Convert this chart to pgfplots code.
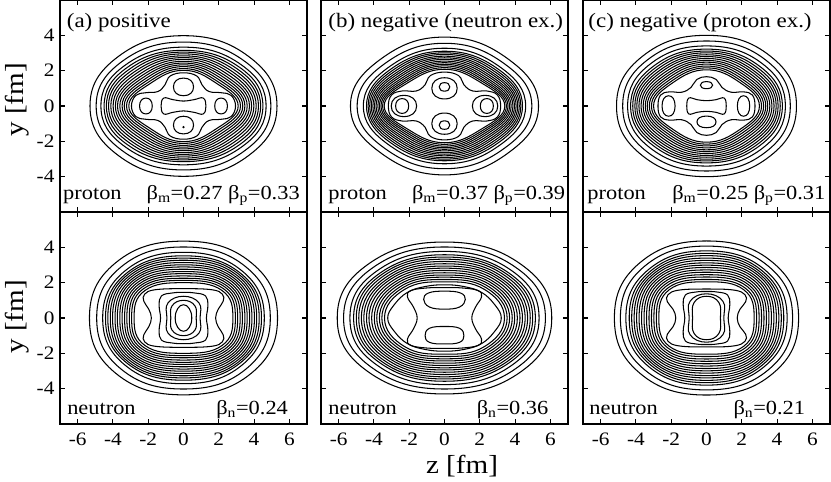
\documentclass[border=0pt]{standalone}
\usepackage{fontspec}
\setmainfont{Liberation Serif}[FakeStretch=1.12]
\usepackage{pgfplots}
\pgfplotsset{compat=1.18}

\newcommand{\ttl}{\fontsize{20.5}{24}\selectfont}
\newcommand{\ann}{\fontsize{20}{24}\selectfont}
\newcommand{\axl}{\fontsize{26}{30}\selectfont}

\pgfplotsset{
  panel/.style={
    scale only axis, width=247pt, height=212pt,
    xmin=-7, xmax=7, ymin=-6, ymax=6,
    xtick={-6,-4,-2,0,2,4,6}, ytick={-4,-2,0,2,4},
    xticklabels={}, yticklabels={},
    tick align=inside, tick pos=both, major tick length=5pt,
    axis line style={line width=1.5pt},
    every tick/.style={black, line width=1.1pt},
    tick label style={font=\fontsize{19}{22}\selectfont},
    xticklabel style={inner sep=1pt, yshift=-8pt},
    yticklabel style={xshift=-2pt},
  },
  xlab/.style={xticklabels={-6,-4,-2,0,2,4,6}},
  ylab/.style={yticklabels={-4,-2,0,2,4}},
  ring/.style={black, line width=1.05pt, smooth cycle, tension=0.75},
  blob/.style={black, line width=1.05pt, smooth cycle, tension=0.7},
  oval/.style={black, line width=1.05pt, smooth cycle, tension=1.1},
}

\begin{document}
\begin{tikzpicture}
\useasboundingbox (0,0) rectangle (831pt,482pt);

% ---------- (a) proton ----------
\begin{axis}[panel, ylab, at={(60pt,270pt)}, anchor=south west]
\addplot[ring] coordinates {(5.30,0)(3.71,2.79)(0,3.98)(-3.71,2.79)(-5.30,0)(-3.71,-2.79)(0,-3.98)(3.71,-2.79)};
\addplot[ring] coordinates {(4.95,0)(3.47,2.53)(0,3.62)(-3.47,2.53)(-4.95,0)(-3.47,-2.53)(0,-3.62)(3.47,-2.53)};
\addplot[ring] coordinates {(4.68,0)(3.28,2.33)(0,3.33)(-3.28,2.33)(-4.68,0)(-3.28,-2.33)(0,-3.33)(3.28,-2.33)};
\addplot[ring] coordinates {(4.50,0)(3.15,2.21)(0,3.15)(-3.15,2.21)(-4.50,0)(-3.15,-2.21)(0,-3.15)(3.15,-2.21)};
\addplot[ring] coordinates {(4.37,0)(3.03,2.11)(0,3.05)(-3.03,2.11)(-4.37,0)(-3.03,-2.11)(0,-3.05)(3.03,-2.11)};
\addplot[ring] coordinates {(4.25,0)(2.91,2.02)(0,2.95)(-2.91,2.02)(-4.25,0)(-2.91,-2.02)(0,-2.95)(2.91,-2.02)};
\addplot[ring] coordinates {(4.12,0)(2.79,1.93)(0,2.84)(-2.79,1.93)(-4.12,0)(-2.79,-1.93)(0,-2.84)(2.79,-1.93)};
\addplot[ring] coordinates {(3.99,0)(2.68,1.84)(0,2.74)(-2.68,1.84)(-3.99,0)(-2.68,-1.84)(0,-2.74)(2.68,-1.84)};
\addplot[ring] coordinates {(3.86,0)(2.56,1.75)(0,2.64)(-2.56,1.75)(-3.86,0)(-2.56,-1.75)(0,-2.64)(2.56,-1.75)};
\addplot[ring] coordinates {(3.74,0)(2.45,1.66)(0,2.53)(-2.45,1.66)(-3.74,0)(-2.45,-1.66)(0,-2.53)(2.45,-1.66)};
\addplot[ring] coordinates {(3.61,0)(2.34,1.58)(0,2.43)(-2.34,1.58)(-3.61,0)(-2.34,-1.58)(0,-2.43)(2.34,-1.58)};
\addplot[ring] coordinates {(3.48,0)(2.24,1.49)(0,2.33)(-2.24,1.49)(-3.48,0)(-2.24,-1.49)(0,-2.33)(2.24,-1.49)};
\addplot[ring] coordinates {(3.36,0)(2.13,1.41)(0,2.23)(-2.13,1.41)(-3.36,0)(-2.13,-1.41)(0,-2.23)(2.13,-1.41)};
\addplot[ring] coordinates {(3.23,0)(2.02,1.33)(0,2.12)(-2.02,1.33)(-3.23,0)(-2.02,-1.33)(0,-2.12)(2.02,-1.33)};
\addplot[ring] coordinates {(3.10,0)(1.92,1.25)(0,2.02)(-1.92,1.25)(-3.10,0)(-1.92,-1.25)(0,-2.02)(1.92,-1.25)};
\addplot[blob] coordinates {(2.95,0)(2.7,0.6)(2.15,0.75)(1.45,0.82)(1.05,1.2)(0.75,1.7)(0,1.88)(-0.75,1.7)(-1.05,1.2)(-1.45,0.82)(-2.15,0.75)(-2.7,0.6)(-2.95,0)(-2.7,-0.6)(-2.15,-0.75)(-1.45,-0.82)(-1.05,-1.2)(-0.75,-1.7)(0,-1.88)(0.75,-1.7)(1.05,-1.2)(1.45,-0.82)(2.15,-0.75)(2.7,-0.6)};
\addplot[oval] coordinates {(0.57,1.08)(0,1.58)(-0.57,1.08)(0,0.58)};
\addplot[oval] coordinates {(0.57,-1.08)(0,-0.58)(-0.57,-1.08)(0,-1.58)};
\addplot[oval] coordinates {(0.03,-1.2)(0,-1.17)(-0.03,-1.2)(0,-1.23)};
\addplot[oval] coordinates {(2.49,0)(2.13,0.45)(1.77,0)(2.13,-0.45)};
\addplot[oval] coordinates {(-1.77,0)(-2.13,0.45)(-2.49,0)(-2.13,-0.45)};
\addplot[blob] coordinates {(1.27,0)(1.12,0.45)(0.6,0.36)(0,0.28)(-0.6,0.36)(-1.12,0.45)(-1.27,0)(-1.12,-0.45)(-0.6,-0.36)(0,-0.28)(0.6,-0.36)(1.12,-0.45)};
\node[anchor=base west, inner sep=0, font=\ttl] at (axis cs:-6.62,4.46) {(a) positive};
\node[anchor=base west, inner sep=0, font=\ann] at (axis cs:-6.83,-5.31) {proton};
\node[anchor=base east, inner sep=0, font=\ann] at (axis cs:6.6,-5.31) {β\textsubscript{m}=0.27 β\textsubscript{p}=0.33};
\end{axis}

% ---------- (b) proton ----------
\begin{axis}[panel, at={(321pt,270pt)}, anchor=south west]
\addplot[ring] coordinates {(5.33,0)(3.62,2.65)(0,3.90)(-3.62,2.65)(-5.33,0)(-3.62,-2.65)(0,-3.90)(3.62,-2.65)};
\addplot[ring] coordinates {(4.95,0)(3.37,2.41)(0,3.55)(-3.37,2.41)(-4.95,0)(-3.37,-2.41)(0,-3.55)(3.37,-2.41)};
\addplot[ring] coordinates {(4.60,0)(3.13,2.22)(0,3.27)(-3.13,2.22)(-4.60,0)(-3.13,-2.22)(0,-3.27)(3.13,-2.22)};
\addplot[ring] coordinates {(4.42,0)(3.01,2.11)(0,3.10)(-3.01,2.11)(-4.42,0)(-3.01,-2.11)(0,-3.10)(3.01,-2.11)};
\addplot[ring] coordinates {(4.33,0)(2.92,2.03)(0,3.01)(-2.92,2.03)(-4.33,0)(-2.92,-2.03)(0,-3.01)(2.92,-2.03)};
\addplot[ring] coordinates {(4.24,0)(2.84,1.95)(0,2.92)(-2.84,1.95)(-4.24,0)(-2.84,-1.95)(0,-2.92)(2.84,-1.95)};
\addplot[ring] coordinates {(4.15,0)(2.75,1.87)(0,2.82)(-2.75,1.87)(-4.15,0)(-2.75,-1.87)(0,-2.82)(2.75,-1.87)};
\addplot[ring] coordinates {(4.06,0)(2.67,1.80)(0,2.73)(-2.67,1.80)(-4.06,0)(-2.67,-1.80)(0,-2.73)(2.67,-1.80)};
\addplot[ring] coordinates {(3.97,0)(2.59,1.72)(0,2.64)(-2.59,1.72)(-3.97,0)(-2.59,-1.72)(0,-2.64)(2.59,-1.72)};
\addplot[ring] coordinates {(3.88,0)(2.51,1.65)(0,2.54)(-2.51,1.65)(-3.88,0)(-2.51,-1.65)(0,-2.54)(2.51,-1.65)};
\addplot[ring] coordinates {(3.78,0)(2.43,1.57)(0,2.45)(-2.43,1.57)(-3.78,0)(-2.43,-1.57)(0,-2.45)(2.43,-1.57)};
\addplot[ring] coordinates {(3.69,0)(2.35,1.50)(0,2.36)(-2.35,1.50)(-3.69,0)(-2.35,-1.50)(0,-2.36)(2.35,-1.50)};
\addplot[ring] coordinates {(3.60,0)(2.27,1.43)(0,2.27)(-2.27,1.43)(-3.60,0)(-2.27,-1.43)(0,-2.27)(2.27,-1.43)};
\addplot[ring] coordinates {(3.51,0)(2.20,1.36)(0,2.17)(-2.20,1.36)(-3.51,0)(-2.20,-1.36)(0,-2.17)(2.20,-1.36)};
\addplot[ring] coordinates {(3.42,0)(2.12,1.29)(0,2.08)(-2.12,1.29)(-3.42,0)(-2.12,-1.29)(0,-2.08)(2.12,-1.29)};
\addplot[blob] coordinates {(3.18,0)(3.0,0.62)(2.4,0.85)(1.6,0.85)(1.1,1.2)(0.8,1.72)(0,1.92)(-0.8,1.72)(-1.1,1.2)(-1.6,0.85)(-2.4,0.85)(-3.0,0.62)(-3.18,0)(-3.0,-0.62)(-2.4,-0.85)(-1.6,-0.85)(-1.1,-1.2)(-0.8,-1.72)(0,-1.92)(0.8,-1.72)(1.1,-1.2)(1.6,-0.85)(2.4,-0.85)(3.0,-0.62)};
\addplot[oval] coordinates {(0.72,1.0)(0,1.6)(-0.72,1.0)(0,0.4)};
\addplot[oval] coordinates {(0.72,-1.0)(0,-0.4)(-0.72,-1.0)(0,-1.6)};
\addplot[oval] coordinates {(0.3,1.08)(0,1.32)(-0.3,1.08)(0,0.84)};
\addplot[oval] coordinates {(0.3,-1.08)(0,-0.84)(-0.3,-1.08)(0,-1.32)};
\addplot[oval] coordinates {(3.02,0)(2.3,0.6)(1.58,0)(2.3,-0.6)};
\addplot[oval] coordinates {(-1.58,0)(-2.3,0.6)(-3.02,0)(-2.3,-0.6)};
\addplot[oval] coordinates {(2.77,0)(2.4,0.42)(2.03,0)(2.4,-0.42)};
\addplot[oval] coordinates {(-2.03,0)(-2.4,0.42)(-2.77,0)(-2.4,-0.42)};
\node[anchor=base west, inner sep=0, font=\ttl] at (axis cs:-6.59,4.46) {(b) negative (neutron ex.)};
\node[anchor=base west, inner sep=0, font=\ann] at (axis cs:-6.59,-5.31) {proton};
\node[anchor=base east, inner sep=0, font=\ann] at (axis cs:6.85,-5.31) {β\textsubscript{m}=0.37 β\textsubscript{p}=0.39};
\end{axis}

% ---------- (c) proton ----------
\begin{axis}[panel, at={(583pt,270pt)}, anchor=south west]
\addplot[ring] coordinates {(5.10,0)(3.61,2.83)(0,4.00)(-3.61,2.83)(-5.10,0)(-3.61,-2.83)(0,-4.00)(3.61,-2.83)};
\addplot[ring] coordinates {(4.75,0)(3.36,2.60)(0,3.68)(-3.36,2.60)(-4.75,0)(-3.36,-2.60)(0,-3.68)(3.36,-2.60)};
\addplot[ring] coordinates {(4.47,0)(3.16,2.40)(0,3.40)(-3.16,2.40)(-4.47,0)(-3.16,-2.40)(0,-3.40)(3.16,-2.40)};
\addplot[ring] coordinates {(4.30,0)(3.01,2.25)(0,3.22)(-3.01,2.25)(-4.30,0)(-3.01,-2.25)(0,-3.22)(3.01,-2.25)};
\addplot[ring] coordinates {(4.18,0)(2.90,2.16)(0,3.11)(-2.90,2.16)(-4.18,0)(-2.90,-2.16)(0,-3.11)(2.90,-2.16)};
\addplot[ring] coordinates {(4.06,0)(2.80,2.07)(0,3.01)(-2.80,2.07)(-4.06,0)(-2.80,-2.07)(0,-3.01)(2.80,-2.07)};
\addplot[ring] coordinates {(3.95,0)(2.70,1.98)(0,2.90)(-2.70,1.98)(-3.95,0)(-2.70,-1.98)(0,-2.90)(2.70,-1.98)};
\addplot[ring] coordinates {(3.83,0)(2.60,1.90)(0,2.80)(-2.60,1.90)(-3.83,0)(-2.60,-1.90)(0,-2.80)(2.60,-1.90)};
\addplot[ring] coordinates {(3.71,0)(2.50,1.81)(0,2.69)(-2.50,1.81)(-3.71,0)(-2.50,-1.81)(0,-2.69)(2.50,-1.81)};
\addplot[ring] coordinates {(3.59,0)(2.40,1.72)(0,2.58)(-2.40,1.72)(-3.59,0)(-2.40,-1.72)(0,-2.58)(2.40,-1.72)};
\addplot[ring] coordinates {(3.47,0)(2.30,1.64)(0,2.48)(-2.30,1.64)(-3.47,0)(-2.30,-1.64)(0,-2.48)(2.30,-1.64)};
\addplot[ring] coordinates {(3.36,0)(2.20,1.56)(0,2.37)(-2.20,1.56)(-3.36,0)(-2.20,-1.56)(0,-2.37)(2.20,-1.56)};
\addplot[ring] coordinates {(3.24,0)(2.11,1.47)(0,2.26)(-2.11,1.47)(-3.24,0)(-2.11,-1.47)(0,-2.26)(2.11,-1.47)};
\addplot[ring] coordinates {(3.12,0)(2.01,1.39)(0,2.16)(-2.01,1.39)(-3.12,0)(-2.01,-1.39)(0,-2.16)(2.01,-1.39)};
\addplot[ring] coordinates {(3.00,0)(1.92,1.31)(0,2.05)(-1.92,1.31)(-3.00,0)(-1.92,-1.31)(0,-2.05)(1.92,-1.31)};
\addplot[blob] coordinates {(2.75,0)(2.6,0.62)(2.1,0.8)(1.4,0.78)(0.88,1.05)(0.55,1.5)(0,1.66)(-0.55,1.5)(-0.88,1.05)(-1.4,0.78)(-2.1,0.8)(-2.6,0.62)(-2.75,0)(-2.6,-0.62)(-2.1,-0.8)(-1.4,-0.78)(-0.88,-1.05)(-0.55,-1.5)(0,-1.66)(0.55,-1.5)(0.88,-1.05)(1.4,-0.78)(2.1,-0.8)(2.6,-0.62)};
\addplot[oval] coordinates {(0.35,1.18)(0,1.38)(-0.35,1.18)(0,0.98)};
\addplot[oval] coordinates {(0.54,-0.9)(0,-0.57)(-0.54,-0.9)(0,-1.23)};
\addplot[oval] coordinates {(2.45,0)(2.1,0.58)(1.75,0)(2.1,-0.58)};
\addplot[oval] coordinates {(-1.78,0)(-2.15,0.58)(-2.52,0)(-2.15,-0.58)};
\addplot[blob] coordinates {(1.12,0)(1.0,0.45)(0.55,0.36)(0,0.3)(-0.55,0.36)(-1.0,0.45)(-1.12,0)(-1.0,-0.45)(-0.55,-0.36)(0,-0.3)(0.55,-0.36)(1.0,-0.45)};
\node[anchor=base west, inner sep=0, font=\ttl] at (axis cs:-6.7,4.46) {(c) negative (proton ex.)};
\node[anchor=base west, inner sep=0, font=\ann] at (axis cs:-6.76,-5.31) {proton};
\node[anchor=base east, inner sep=0, font=\ann] at (axis cs:6.75,-5.31) {β\textsubscript{m}=0.25 β\textsubscript{p}=0.31};
\end{axis}

% ---------- (a) neutron ----------
\begin{axis}[panel, xlab, ylab, at={(60pt,58pt)}, anchor=south west]
\addplot[ring] coordinates {(5.33,0)(3.84,3.13)(0,4.35)(-3.84,3.13)(-5.33,0)(-3.84,-3.13)(0,-4.35)(3.84,-3.13)};
\addplot[ring] coordinates {(4.92,0)(3.54,2.89)(0,4.02)(-3.54,2.89)(-4.92,0)(-3.54,-2.89)(0,-4.02)(3.54,-2.89)};
\addplot[ring] coordinates {(4.58,0)(3.30,2.68)(0,3.72)(-3.30,2.68)(-4.58,0)(-3.30,-2.68)(0,-3.72)(3.30,-2.68)};
\addplot[ring] coordinates {(4.42,0)(3.21,2.55)(0,3.52)(-3.21,2.55)(-4.42,0)(-3.21,-2.55)(0,-3.52)(3.21,-2.55)};
\addplot[ring] coordinates {(4.29,0)(3.13,2.48)(0,3.39)(-3.13,2.48)(-4.29,0)(-3.13,-2.48)(0,-3.39)(3.13,-2.48)};
\addplot[ring] coordinates {(4.15,0)(3.05,2.40)(0,3.27)(-3.05,2.40)(-4.15,0)(-3.05,-2.40)(0,-3.27)(3.05,-2.40)};
\addplot[ring] coordinates {(4.02,0)(2.97,2.32)(0,3.14)(-2.97,2.32)(-4.02,0)(-2.97,-2.32)(0,-3.14)(2.97,-2.32)};
\addplot[ring] coordinates {(3.88,0)(2.88,2.24)(0,3.01)(-2.88,2.24)(-3.88,0)(-2.88,-2.24)(0,-3.01)(2.88,-2.24)};
\addplot[ring] coordinates {(3.75,0)(2.80,2.16)(0,2.89)(-2.80,2.16)(-3.75,0)(-2.80,-2.16)(0,-2.89)(2.80,-2.16)};
\addplot[ring] coordinates {(3.61,0)(2.72,2.08)(0,2.76)(-2.72,2.08)(-3.61,0)(-2.72,-2.08)(0,-2.76)(2.72,-2.08)};
\addplot[ring] coordinates {(3.48,0)(2.63,1.99)(0,2.63)(-2.63,1.99)(-3.48,0)(-2.63,-1.99)(0,-2.63)(2.63,-1.99)};
\addplot[ring] coordinates {(3.34,0)(2.54,1.91)(0,2.51)(-2.54,1.91)(-3.34,0)(-2.54,-1.91)(0,-2.51)(2.54,-1.91)};
\addplot[ring] coordinates {(3.21,0)(2.46,1.82)(0,2.38)(-2.46,1.82)(-3.21,0)(-2.46,-1.82)(0,-2.38)(2.46,-1.82)};
\addplot[ring] coordinates {(3.07,0)(2.37,1.74)(0,2.25)(-2.37,1.74)(-3.07,0)(-2.37,-1.74)(0,-2.25)(2.37,-1.74)};
\addplot[ring] coordinates {(2.94,0)(2.28,1.65)(0,2.13)(-2.28,1.65)(-2.94,0)(-2.28,-1.65)(0,-2.13)(2.28,-1.65)};
\addplot[ring] coordinates {(2.80,0)(2.18,1.56)(0,2.00)(-2.18,1.56)(-2.80,0)(-2.18,-1.56)(0,-2.00)(2.18,-1.56)};
\addplot[blob] coordinates {(1.82,0)(1.97,0.5)(2.25,0.95)(2.2,1.35)(1.6,1.6)(0,1.66)(-1.6,1.6)(-2.2,1.35)(-2.25,0.95)(-1.97,0.5)(-1.82,0)(-1.97,-0.5)(-2.25,-0.95)(-2.2,-1.35)(-1.6,-1.6)(0,-1.66)(1.6,-1.6)(2.2,-1.35)(2.25,-0.95)(1.97,-0.5)};
\addplot[blob] coordinates {(1.3,0)(1.38,0.7)(1.25,1.25)(0.6,1.42)(0,1.45)(-0.6,1.42)(-1.25,1.25)(-1.38,0.7)(-1.3,0)(-1.38,-0.7)(-1.25,-1.25)(-0.6,-1.42)(0,-1.45)(0.6,-1.42)(1.25,-1.25)(1.38,-0.7)};
\addplot[ring] coordinates {(0.94,0)(0.88,0.85)(0,1.23)(-0.88,0.85)(-0.94,0)(-0.88,-0.85)(0,-1.23)(0.88,-0.85)};
\addplot[ring] coordinates {(0.72,0)(0.64,0.7)(0,1.0)(-0.64,0.7)(-0.72,0)(-0.64,-0.7)(0,-1.0)(0.64,-0.7)};
\addplot[ring] coordinates {(0.47,0)(0.33,0.53)(0,0.75)(-0.33,0.53)(-0.47,0)(-0.33,-0.53)(0,-0.75)(0.33,-0.53)};
\node[anchor=base west, inner sep=0, font=\ann] at (axis cs:-6.6,-5.45) {neutron};
\node[anchor=base east, inner sep=0, font=\ann] at (axis cs:5.93,-5.45) {β\textsubscript{n}=0.24};
\end{axis}

% ---------- (b) neutron ----------
\begin{axis}[panel, xlab, at={(321pt,58pt)}, anchor=south west]
\addplot[ring] coordinates {(6.08,0)(4.32,3.05)(0,4.30)(-4.32,3.05)(-6.08,0)(-4.32,-3.05)(0,-4.30)(4.32,-3.05)};
\addplot[ring] coordinates {(5.72,0)(4.06,2.85)(0,4.02)(-4.06,2.85)(-5.72,0)(-4.06,-2.85)(0,-4.02)(4.06,-2.85)};
\addplot[ring] coordinates {(5.36,0)(3.81,2.68)(0,3.77)(-3.81,2.68)(-5.36,0)(-3.81,-2.68)(0,-3.77)(3.81,-2.68)};
\addplot[ring] coordinates {(5.15,0)(3.66,2.54)(0,3.58)(-3.66,2.54)(-5.15,0)(-3.66,-2.54)(0,-3.58)(3.66,-2.54)};
\addplot[ring] coordinates {(5.00,0)(3.53,2.48)(0,3.45)(-3.53,2.48)(-5.00,0)(-3.53,-2.48)(0,-3.45)(3.53,-2.48)};
\addplot[ring] coordinates {(4.86,0)(3.41,2.41)(0,3.33)(-3.41,2.41)(-4.86,0)(-3.41,-2.41)(0,-3.33)(3.41,-2.41)};
\addplot[ring] coordinates {(4.71,0)(3.29,2.33)(0,3.20)(-3.29,2.33)(-4.71,0)(-3.29,-2.33)(0,-3.20)(3.29,-2.33)};
\addplot[ring] coordinates {(4.57,0)(3.17,2.26)(0,3.07)(-3.17,2.26)(-4.57,0)(-3.17,-2.26)(0,-3.07)(3.17,-2.26)};
\addplot[ring] coordinates {(4.42,0)(3.06,2.19)(0,2.94)(-3.06,2.19)(-4.42,0)(-3.06,-2.19)(0,-2.94)(3.06,-2.19)};
\addplot[ring] coordinates {(4.28,0)(2.94,2.11)(0,2.82)(-2.94,2.11)(-4.28,0)(-2.94,-2.11)(0,-2.82)(2.94,-2.11)};
\addplot[ring] coordinates {(4.13,0)(2.82,2.03)(0,2.69)(-2.82,2.03)(-4.13,0)(-2.82,-2.03)(0,-2.69)(2.82,-2.03)};
\addplot[ring] coordinates {(3.98,0)(2.71,1.95)(0,2.56)(-2.71,1.95)(-3.98,0)(-2.71,-1.95)(0,-2.56)(2.71,-1.95)};
\addplot[ring] coordinates {(3.84,0)(2.60,1.87)(0,2.43)(-2.60,1.87)(-3.84,0)(-2.60,-1.87)(0,-2.43)(2.60,-1.87)};
\addplot[ring] coordinates {(3.69,0)(2.48,1.79)(0,2.31)(-2.48,1.79)(-3.69,0)(-2.48,-1.79)(0,-2.31)(2.48,-1.79)};
\addplot[ring] coordinates {(3.55,0)(2.37,1.71)(0,2.18)(-2.37,1.71)(-3.55,0)(-2.37,-1.71)(0,-2.18)(2.37,-1.71)};
\addplot[ring] coordinates {(3.40,0)(2.26,1.62)(0,2.05)(-2.26,1.62)(-3.40,0)(-2.26,-1.62)(0,-2.05)(2.26,-1.62)};
\addplot[blob] coordinates {(3.22,0)(2.85,0.75)(2.1,1.45)(1.1,1.78)(0,1.88)(-1.1,1.78)(-2.1,1.45)(-2.85,0.75)(-3.22,0)(-2.85,-0.75)(-2.1,-1.45)(-1.1,-1.78)(0,-1.88)(1.1,-1.78)(2.1,-1.45)(2.85,-0.75)};
\addplot[blob] coordinates {(1.55,0)(1.75,0.6)(2.1,1.2)(1.9,1.55)(1.0,1.7)(0,1.72)(-1.0,1.7)(-1.9,1.55)(-2.1,1.2)(-1.75,0.6)(-1.55,0)(-1.75,-0.6)(-2.1,-1.2)(-1.9,-1.55)(-1.0,-1.7)(0,-1.72)(1.0,-1.7)(1.9,-1.55)(2.1,-1.2)(1.75,-0.6)};
\addplot[blob] coordinates {(1.18,1.05)(0.9,1.42)(0,1.52)(-0.9,1.42)(-1.18,1.05)(-0.85,0.62)(0,0.5)(0.85,0.62)};
\addplot[blob] coordinates {(1.1,-1.0)(0.85,-0.58)(0,-0.48)(-0.85,-0.58)(-1.1,-1.0)(-0.85,-1.38)(0,-1.47)(0.85,-1.38)};
\node[anchor=base west, inner sep=0, font=\ann] at (axis cs:-6.59,-5.45) {neutron};
\node[anchor=base east, inner sep=0, font=\ann] at (axis cs:5.9,-5.45) {β\textsubscript{n}=0.36};
\end{axis}

% ---------- (c) neutron ----------
\begin{axis}[panel, xlab, at={(583pt,58pt)}, anchor=south west]
\addplot[ring] coordinates {(5.22,0)(3.76,3.14)(0,4.36)(-3.76,3.14)(-5.22,0)(-3.76,-3.14)(0,-4.36)(3.76,-3.14)};
\addplot[ring] coordinates {(4.88,0)(3.51,2.93)(0,4.07)(-3.51,2.93)(-4.88,0)(-3.51,-2.93)(0,-4.07)(3.51,-2.93)};
\addplot[ring] coordinates {(4.57,0)(3.29,2.74)(0,3.80)(-3.29,2.74)(-4.57,0)(-3.29,-2.74)(0,-3.80)(3.29,-2.74)};
\addplot[ring] coordinates {(4.38,0)(3.18,2.65)(0,3.66)(-3.18,2.65)(-4.38,0)(-3.18,-2.65)(0,-3.66)(3.18,-2.65)};
\addplot[ring] coordinates {(4.24,0)(3.09,2.57)(0,3.53)(-3.09,2.57)(-4.24,0)(-3.09,-2.57)(0,-3.53)(3.09,-2.57)};
\addplot[ring] coordinates {(4.10,0)(3.01,2.49)(0,3.39)(-3.01,2.49)(-4.10,0)(-3.01,-2.49)(0,-3.39)(3.01,-2.49)};
\addplot[ring] coordinates {(3.96,0)(2.93,2.41)(0,3.26)(-2.93,2.41)(-3.96,0)(-2.93,-2.41)(0,-3.26)(2.93,-2.41)};
\addplot[ring] coordinates {(3.82,0)(2.84,2.32)(0,3.12)(-2.84,2.32)(-3.82,0)(-2.84,-2.32)(0,-3.12)(2.84,-2.32)};
\addplot[ring] coordinates {(3.68,0)(2.75,2.24)(0,2.99)(-2.75,2.24)(-3.68,0)(-2.75,-2.24)(0,-2.99)(2.75,-2.24)};
\addplot[ring] coordinates {(3.54,0)(2.66,2.15)(0,2.86)(-2.66,2.15)(-3.54,0)(-2.66,-2.15)(0,-2.86)(2.66,-2.15)};
\addplot[ring] coordinates {(3.40,0)(2.57,2.06)(0,2.72)(-2.57,2.06)(-3.40,0)(-2.57,-2.06)(0,-2.72)(2.57,-2.06)};
\addplot[ring] coordinates {(3.26,0)(2.48,1.97)(0,2.59)(-2.48,1.97)(-3.26,0)(-2.48,-1.97)(0,-2.59)(2.48,-1.97)};
\addplot[ring] coordinates {(3.12,0)(2.39,1.88)(0,2.45)(-2.39,1.88)(-3.12,0)(-2.39,-1.88)(0,-2.45)(2.39,-1.88)};
\addplot[ring] coordinates {(2.98,0)(2.30,1.79)(0,2.32)(-2.30,1.79)(-2.98,0)(-2.30,-1.79)(0,-2.32)(2.30,-1.79)};
\addplot[ring] coordinates {(2.84,0)(2.20,1.69)(0,2.18)(-2.20,1.69)(-2.84,0)(-2.20,-1.69)(0,-2.18)(2.20,-1.69)};
\addplot[ring] coordinates {(2.70,0)(2.11,1.60)(0,2.05)(-2.11,1.60)(-2.70,0)(-2.11,-1.60)(0,-2.05)(2.11,-1.60)};
\addplot[blob] coordinates {(1.74,0)(1.9,0.5)(2.22,0.92)(2.18,1.32)(1.55,1.58)(0,1.64)(-1.55,1.58)(-2.18,1.32)(-2.22,0.92)(-1.9,0.5)(-1.74,0)(-1.9,-0.5)(-2.22,-0.92)(-2.18,-1.32)(-1.55,-1.58)(0,-1.64)(1.55,-1.58)(2.18,-1.32)(2.22,-0.92)(1.9,-0.5)};
\addplot[blob] coordinates {(1.23,0)(1.32,0.75)(1.2,1.3)(0.6,1.47)(0,1.5)(-0.6,1.47)(-1.2,1.3)(-1.32,0.75)(-1.23,0)(-1.32,-0.75)(-1.2,-1.3)(-0.6,-1.47)(0,-1.5)(0.6,-1.47)(1.2,-1.3)(1.32,-0.75)};
\addplot[ring] coordinates {(0.98,0)(0.93,0.95)(0,1.37)(-0.93,0.95)(-0.98,0)(-0.93,-0.95)(0,-1.37)(0.93,-0.95)};
\addplot[ring] coordinates {(0.79,0)(0.7,0.88)(0,1.23)(-0.7,0.88)(-0.79,0)(-0.7,-0.88)(0,-1.23)(0.7,-0.88)};
\node[anchor=base west, inner sep=0, font=\ann] at (axis cs:-6.65,-5.45) {neutron};
\node[anchor=base east, inner sep=0, font=\ann] at (axis cs:5.6,-5.45) {β\textsubscript{n}=0.21};
\end{axis}

\node[rotate=90, inner sep=0, font=\axl] at (17pt,382pt) {y [fm]};
\node[rotate=90, inner sep=0, font=\axl] at (17pt,165pt) {y [fm]};
\node[inner sep=0, font=\axl] at (462pt,16pt) {z [fm]};
\end{tikzpicture}
\end{document}
